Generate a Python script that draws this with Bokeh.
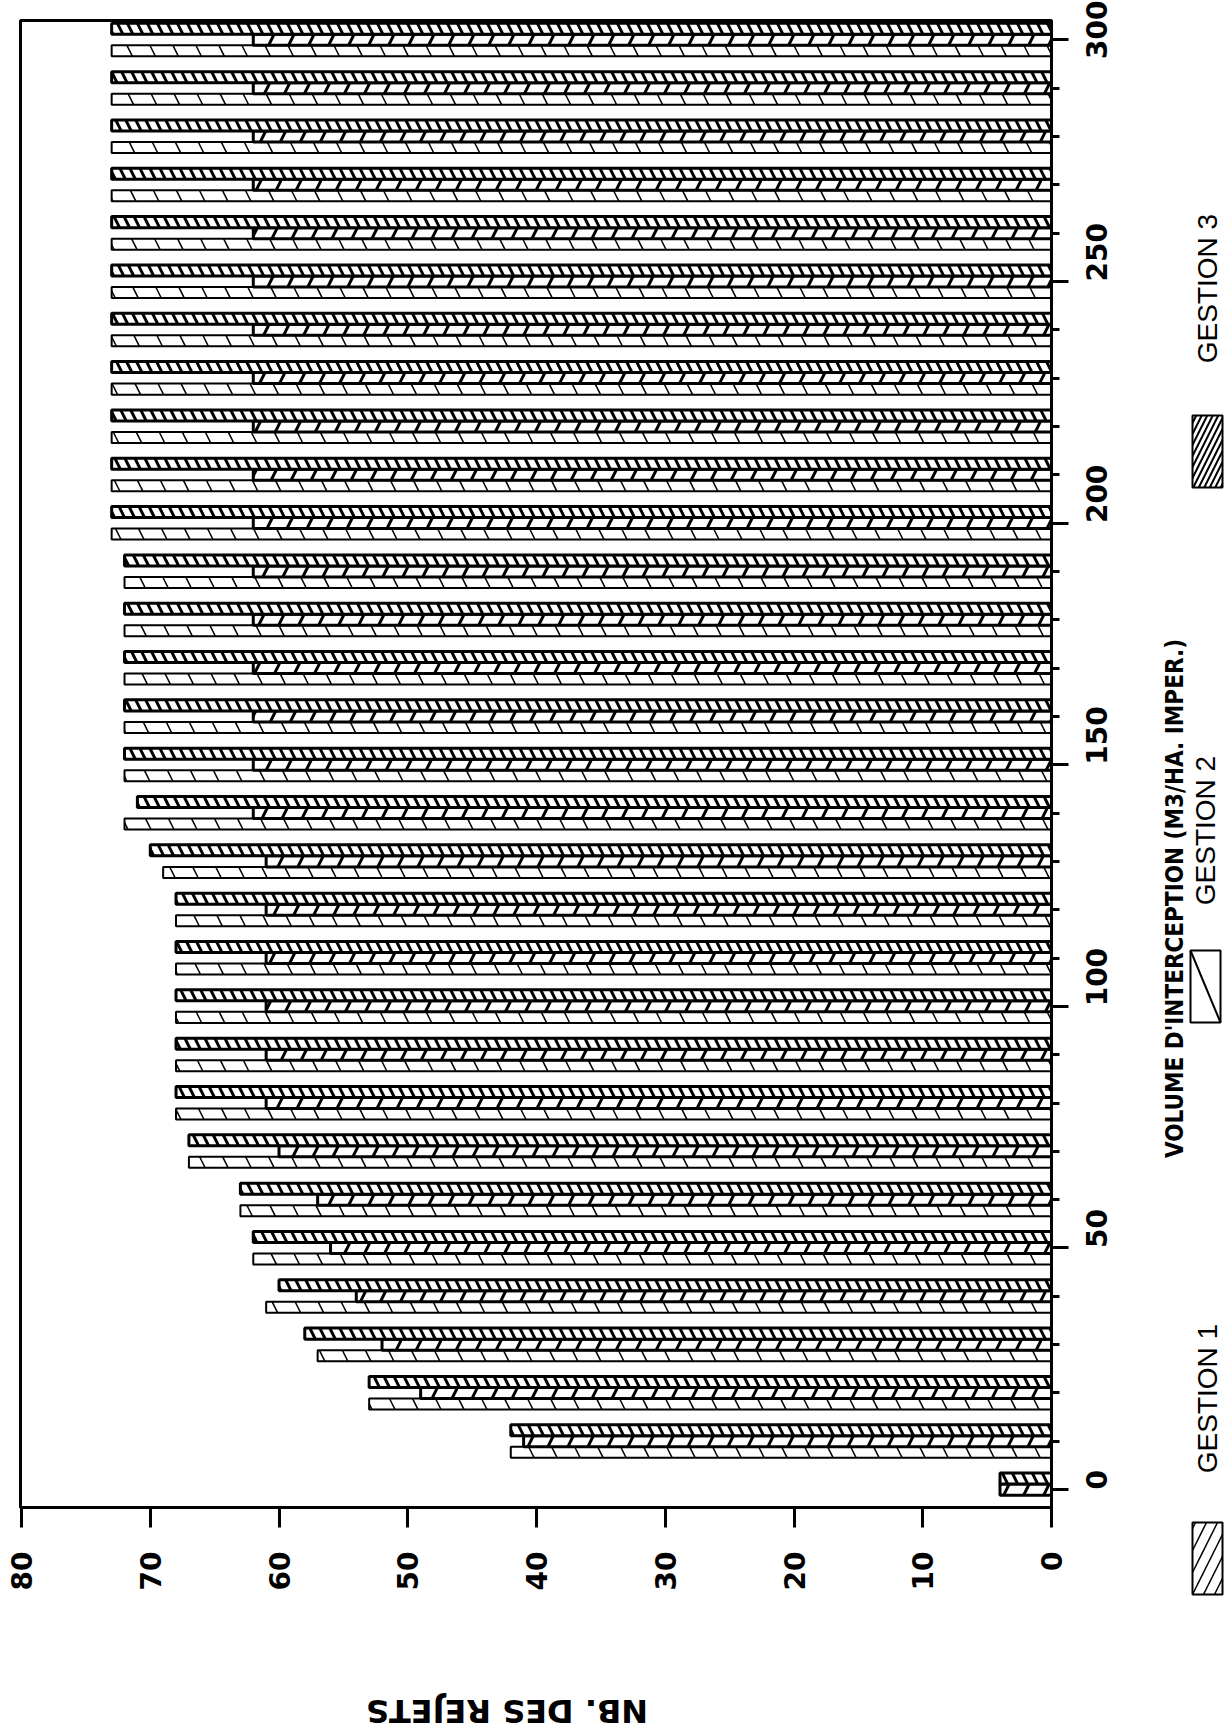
import math
from bokeh.plotting import figure
from bokeh.models import Range1d, SingleIntervalTicker, ColumnDataSource
from bokeh.layouts import row, column
from bokeh.core.properties import value
from bokeh.embed import file_html
from bokeh.resources import INLINE

# ---- data ----
volumes = list(range(0, 301, 10))
gestion1 = [0, 42, 53, 57, 61, 62, 63, 67, 68, 68, 68, 68, 68, 69, 72, 72, 72, 72, 72, 72,
            73, 73, 73, 73, 73, 73, 73, 73, 73, 73, 73]
gestion2 = [4, 41, 49, 52, 54, 56, 57, 60, 61, 61, 61, 61, 61, 61, 62, 62, 62, 62, 62, 62,
            62, 62, 62, 62, 62, 62, 62, 62, 62, 62, 62]
gestion3 = [4, 42, 53, 58, 60, 62, 63, 67, 68, 68, 68, 68, 68, 70, 71, 72, 72, 72, 72, 72,
            73, 73, 73, 73, 73, 73, 73, 73, 73, 73, 73]
series_names = ["GESTION 1", "GESTION 2", "GESTION 3"]
x_title = "VOLUME D'INTERCEPTION (M3/HA. IMPER.)"
y_title = "NB. DES REJETS"

BAR_H = 2.28
BOLD_FONT = "DejaVu Sans"
LIGHT_FONT = "Liberation Sans"
NARROW_FONT = "'Liberation Sans Narrow', 'DejaVu Sans Condensed', 'Liberation Sans'"

MAIN_W, MAIN_H = 1136, 1600
TOTAL_H = 1734
RIGHT_W = 90

# ---------------- main chart ----------------
p = figure(width=MAIN_W, height=MAIN_H,
           x_range=Range1d(80.08, 0), y_range=Range1d(-3.7, 304.0),
           output_backend="svg", toolbar_location=None, y_axis_location="right",
           min_border_left=20, min_border_top=20, min_border_right=85, min_border_bottom=93)
p.grid.visible = False
p.outline_line_color = "black"
p.outline_line_width = 3
p.background_fill_color = "white"
p.border_fill_color = "white"

styles = [
    dict(vals=gestion1, off=-BAR_H, lw=2, hp="\\", hs=46, hw=1.5),
    dict(vals=gestion2, off=0.0, lw=3, hp="/", hs=40, hw=3),
    dict(vals=gestion3, off=BAR_H, lw=3, hp="\\", hs=20, hw=3),
]
for st in styles:
    src = ColumnDataSource(dict(y=[v + st["off"] for v in volumes], right=st["vals"]))
    p.hbar(y="y", left=0, right="right", height=BAR_H, source=src,
           fill_color="white", line_color="black", line_width=st["lw"],
           hatch_pattern=st["hp"], hatch_scale=st["hs"], hatch_weight=st["hw"],
           hatch_color="black")

ya = p.yaxis[0]
ya.ticker = SingleIntervalTicker(interval=50, num_minor_ticks=5)
ya.axis_line_width = 3
ya.major_tick_in = 0
ya.major_tick_out = 17
ya.minor_tick_in = 0
ya.minor_tick_out = 8
ya.major_tick_line_width = 3
ya.minor_tick_line_width = 3
ya.major_label_orientation = math.pi / 2
ya.major_label_text_font = BOLD_FONT
ya.major_label_text_font_style = "bold"
ya.major_label_text_font_size = "28px"
ya.major_label_text_color = "black"
ya.major_label_standoff = 28

xa = p.xaxis[0]
xa.ticker = SingleIntervalTicker(interval=10, num_minor_ticks=0)
xa.axis_line_width = 3
xa.major_tick_in = 0
xa.major_tick_out = 20
xa.major_tick_line_width = 3
xa.major_label_orientation = math.pi / 2
xa.major_label_text_font = BOLD_FONT
xa.major_label_text_font_style = "bold"
xa.major_label_text_font_size = "28px"
xa.major_label_text_color = "black"
xa.major_label_standoff = 24


def blank(width, height, xr, yr):
    f = figure(width=width, height=height, x_range=xr, y_range=yr,
               output_backend="svg", toolbar_location=None, min_border=0,
               x_axis_type=None, y_axis_type=None)
    f.grid.visible = False
    f.outline_line_color = None
    f.background_fill_color = "white"
    f.border_fill_color = "white"
    return f


# ---------------- bottom strip: value-axis title (upside down) ----------------
BOT_H = TOTAL_H - MAIN_H
pb = blank(MAIN_W, BOT_H, Range1d(0, MAIN_W), Range1d(0, BOT_H))
pb.text(x=[536], y=[TOTAL_H - 1710], text=[y_title], angle=math.pi,
        text_align="center", text_baseline="middle",
        text_font=value(BOLD_FONT), text_font_style="bold",
        text_font_size=value("32px"), text_color="black")

# ---------------- right strip: category-axis title and legend ----------------
X0 = MAIN_W
pr = blank(RIGHT_W, TOTAL_H, Range1d(X0, X0 + RIGHT_W), Range1d(0, TOTAL_H))
pr.text(x=[1174], y=[TOTAL_H - 898], text=[x_title], angle=math.pi / 2,
        text_align="center", text_baseline="middle",
        text_font=value(NARROW_FONT), text_font_style="bold",
        text_font_size=value("24px"), text_color="black")

leg_tx = [1207, 1205, 1207]
leg_ty = [1398, 830, 288]
pr.text(x=leg_tx, y=[TOTAL_H - t for t in leg_ty], text=series_names, angle=math.pi / 2,
        text_align="center", text_baseline="middle",
        text_font=value(LIGHT_FONT), text_font_size=value("28px"), text_color="black")

# legend boxes (left, right, top, bottom in page px)
box_l = [1192, 1190, 1192]
box_r = [1222, 1220, 1222]
box_t = [1522, 950, 415]
box_b = [1594, 1022, 487]
box_hatch = [("/", 22, 1.5), (" ", 10, 1.0), ("/", 11, 2.0)]
for l, r, t, b, (hp, hs, hw) in zip(box_l, box_r, box_t, box_b, box_hatch):
    pr.quad(left=[l], right=[r], top=[TOTAL_H - t], bottom=[TOTAL_H - b],
            fill_color="white", line_color="black", line_width=2,
            hatch_pattern=hp, hatch_scale=hs, hatch_weight=hw, hatch_color="black")
# the single diagonal of the GESTION 2 box
pr.segment(x0=[box_l[1]], y0=[TOTAL_H - box_t[1]], x1=[box_r[1]], y1=[TOTAL_H - box_b[1]],
           line_color="black", line_width=2)

layout = row(column(p, pb, spacing=0), pr, spacing=0)
open("out.html", "w").write(file_html(layout, INLINE))
